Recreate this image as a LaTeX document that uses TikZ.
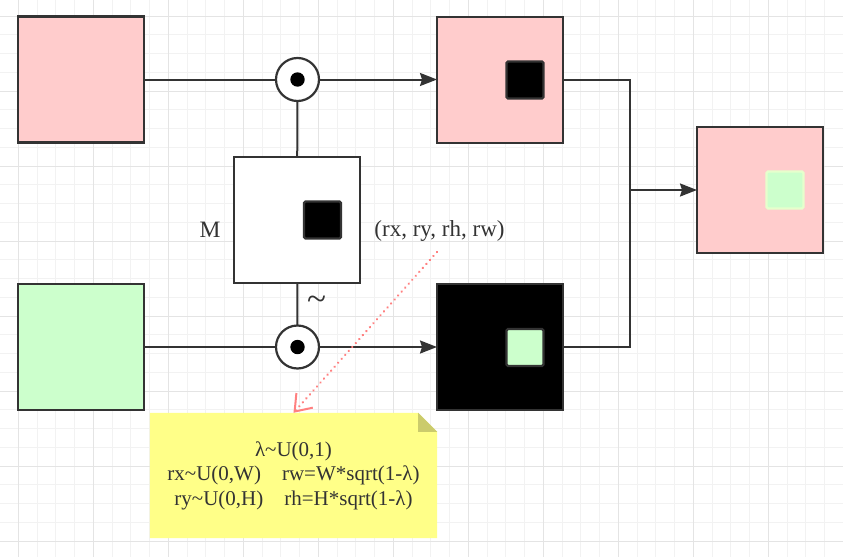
\documentclass[tikz,border=0pt]{standalone}
\usepackage{fontspec}
\setmainfont{Liberation Serif}
\usetikzlibrary{arrows.meta,calc,backgrounds}
\definecolor{edge}{HTML}{333333}
\definecolor{pinkf}{HTML}{FFCCCC}
\definecolor{greenf}{HTML}{CCFFCC}
\definecolor{greenb}{HTML}{E6FFCC}
\definecolor{notef}{HTML}{FFFF88}
\definecolor{notefold}{HTML}{CBCB6C}
\definecolor{gridminor}{HTML}{F2F2F2}
\definecolor{gridmajor}{HTML}{E4E4E4}
\definecolor{dotred}{HTML}{FF8080}
\begin{document}
\begin{tikzpicture}[x=1pt,y=-1pt,
  bigbox/.style={draw=edge,line width=2.2pt,minimum size=126pt,inner sep=0pt,outer sep=0pt},
  smallbox/.style={draw=edge,line width=2.2pt,minimum size=37pt,inner sep=0pt,rounded corners=1.5pt},
  opnode/.style={circle,draw=edge,line width=2.2pt,fill=white,minimum size=43pt,inner sep=0pt,outer sep=0pt,
    path picture={\fill[black] (path picture bounding box.center) circle (7.2pt);}},
  conn/.style={draw=edge,line width=2pt},
  arr/.style={conn,-{Stealth[length=17pt,width=13pt,inset=2pt]}},
  dotarr/.style={draw=dotred,line width=2.5pt,line cap=round,dash pattern=on 0.1pt off 5.2pt,
    -{Straight Barb[length=15pt,width=22pt,line width=2pt]}},
  lbl/.style={text=edge,inner sep=0pt}
]
\useasboundingbox (0,0) rectangle (843,557);
\begin{scope}[on background layer]
  \fill[white] (0,0) rectangle (843,557);
  \foreach \i in {-1,...,44} \draw[gridminor,line width=1pt] ({18.3+18.75*\i},0) -- ++(0,557);
  \foreach \i in {-1,...,29} \draw[gridminor,line width=1pt] (0,{16+18.75*\i}) -- ++(843,0);
  \foreach \i in {0,...,11} \draw[gridmajor,line width=1pt] ({18.3+75*\i},0) -- ++(0,557);
  \foreach \i in {0,...,7} \draw[gridmajor,line width=1pt] (0,{16+75*\i}) -- ++(843,0);
\end{scope}

% boxes
\node[bigbox,fill=pinkf] (A) at (81,79.5) {};
\node[bigbox,fill=greenf] (C) at (81,347) {};
\node[opnode] (c1) at (297.5,79.5) {};
\node[opnode] (c2) at (297.5,347) {};
\node[bigbox,fill=white] (Mb) at (297,220) {};
\node[smallbox,fill=black] (Mi) at (322.5,220) {};
\node[bigbox,fill=pinkf] (B) at (500,80) {};
\node[smallbox,fill=black] (Bi) at (525,80) {};
\node[bigbox,fill=black] (D) at (500,347) {};
\node[smallbox,fill=greenf] (Di) at (525,347.5) {};
\node[bigbox,fill=pinkf] (E) at (760,190) {};
\node[smallbox,draw=greenb,fill=greenf] (Ei) at (785,190) {};
\coordinate (j) at (630,190);

% labels
\node[lbl,font=\fontsize{23.5}{24}\selectfont] (Mlab) at (210,229.5) {M};
\node[lbl,font=\fontsize{23}{24}\selectfont,anchor=base] (rlab) at (439.5,236) {(rx, ry, rh, rw)};
\node[lbl,font=\fontsize{35}{35}\selectfont] (tlab) at (316.5,303) {\textasciitilde};

% note
\node[lbl,align=center,minimum width=287pt,minimum height=125pt,
  font=\fontsize{21}{24.5}\selectfont] (note) at (293.5,475.5)
  {λ\textasciitilde U(0,1)\\
   rx\textasciitilde U(0,W)\hspace{21pt}rw=W*sqrt(1-λ)\\
   ry\textasciitilde U(0,H)\hspace{21pt}rh=H*sqrt(1-λ)};
\begin{scope}[on background layer]
  \fill[notef] (note.north west) -- ($(note.north east)+(-19,0)$) -- ($(note.north east)+(0,19)$)
     -- (note.south east) -- (note.south west) -- cycle;
  \fill[notefold] ($(note.north east)+(-19,0)$) -- ($(note.north east)+(0,19)$) -- ($(note.north east)+(-19,19)$) -- cycle;
\end{scope}

% connectors
\draw[conn] (A) -- (c1);
\draw[arr] (c1.east) -- (c1.east -| B.west);
\draw[conn] (c1) -- (Mb);
\draw[conn] (Mb) -- (c2);
\draw[conn] (C) -- (c2);
\draw[arr] (c2) -- (D);
\draw[conn] (B.east) -| (j);
\draw[conn] (D.east) -| (j);
\draw[arr] (j) -- (E.west);
\coordinate (ds) at (437,252);
\draw[dotarr] (ds) -- (note.north);
\end{tikzpicture}
\end{document}
